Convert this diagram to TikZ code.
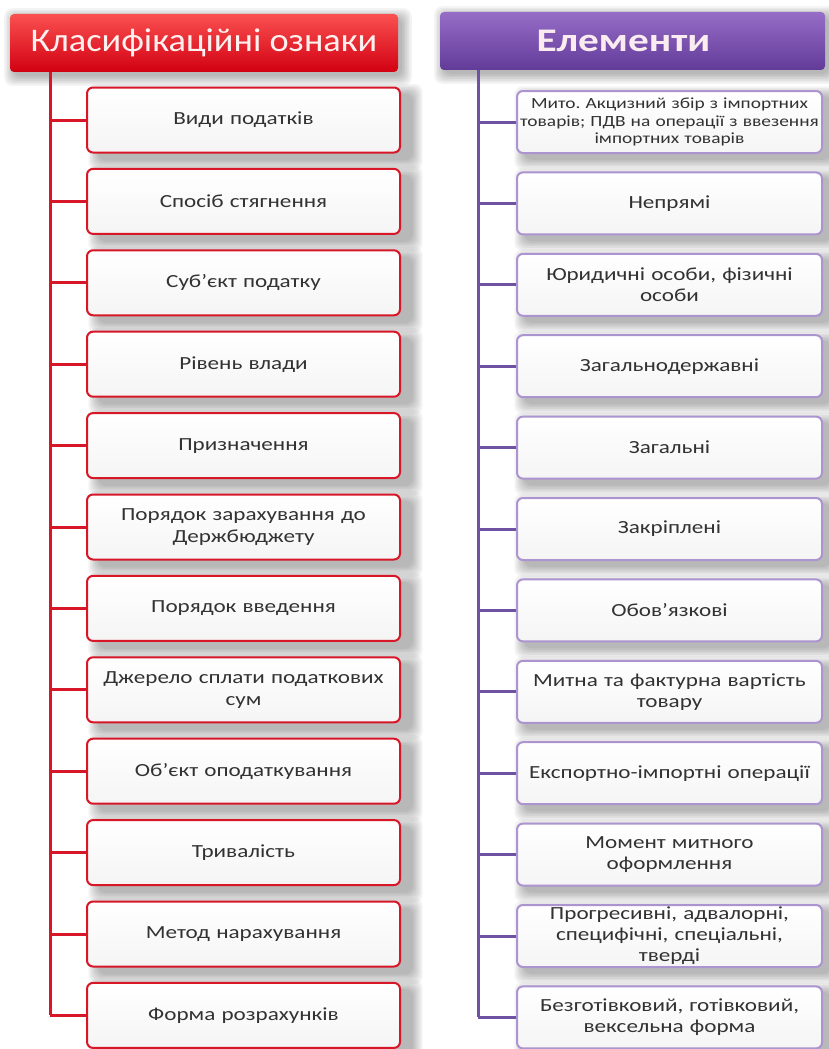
\documentclass[tikz,border=0pt]{standalone}
\usepackage{fontspec}
\setmainfont{Carlito}
\newfontfamily\boxfont[FakeStretch=1.25]{Carlito}
\newfontfamily\headfont[FakeStretch=1.1]{Carlito}
\newfontfamily\headbold[FakeStretch=1.25]{Carlito}
\frenchspacing

\pgfdeclarelayer{paper}
\pgfdeclarelayer{shade}
\pgfsetlayers{paper,shade,main}

\definecolor{redhi}{RGB}{250,80,80}
\definecolor{redlo}{RGB}{210,0,18}
\definecolor{redline}{RGB}{215,22,40}
\definecolor{purphi}{RGB}{150,110,200}
\definecolor{purplo}{RGB}{98,58,152}
\definecolor{purpline}{RGB}{112,82,162}
\definecolor{lavline}{RGB}{172,148,208}
\definecolor{txt}{RGB}{50,50,50}

\tikzset{
  header/.style={rounded corners=4pt, minimum height=58pt, inner sep=0pt},
  redhead/.style={header, top color=redhi, bottom color=redlo, minimum width=388pt,
    text=white!94!red, font=\headfont\fontsize{33}{33}\selectfont},
  purphead/.style={header, top color=purphi, bottom color=purplo, minimum width=385pt,
    text=white!92!purple, font=\headbold\bfseries\fontsize{33}{33}\selectfont},
  item/.style={rounded corners=6pt, line width=2pt, top color=white, bottom color=gray!8,
    align=center, inner sep=0pt, text=txt},
  reditem/.style={item, draw=redline, minimum width=313pt, minimum height=65pt,
    text width=306pt, font=\boxfont\fontsize{18.5}{22}\selectfont},
  puritem/.style={item, draw=lavline, minimum width=305pt, minimum height=62pt,
    text width=300pt, font=\boxfont\fontsize{18.5}{21}\selectfont},
  smalltext/.style={font=\boxfont\fontsize{15.5}{17.5}\selectfont},
  redspine/.style={draw=redline, line width=3pt},
  purspine/.style={draw=purpline, line width=3pt},
  shadelayer/.style={fill=black, fill opacity=0.045, rounded corners=8pt},
}

% soft drop shadow: stacked translucent rounded rectangles behind a node
\newcommand\softshade[3]{% node, x offset, y offset
  \foreach \e in {0,1.6,...,11.2} {
    \fill[shadelayer]
      ([xshift=#2-\e pt, yshift=-#3-\e pt]#1.south west) rectangle
      ([xshift=#2+\e pt, yshift=-#3+\e pt]#1.north east);
  }
}

\begin{document}
\begin{tikzpicture}[x=1pt,y=-1pt]
\useasboundingbox (0,0) rectangle (829,1049);
\begin{pgfonlayer}{paper}
  \fill[white] (0,0) rectangle (829,1049);
\end{pgfonlayer}

% column headings
\node[redhead]  (hl) at (204,43) {Класифікаційні ознаки};
\node[purphead] (hr) at (632.5,41) {\hspace*{-18pt}Елементи};

% left column: classification features
\foreach \i/\t in {
  1/Види податків,
  2/Спосіб стягнення,
  3/Суб’єкт податку,
  4/Рівень влади,
  5/Призначення,
  6/{Порядок зарахування до\\Держбюджету},
  7/Порядок введення,
  8/{Джерело сплати податкових\\сум},
  9/Об’єкт оподаткування,
  10/Тривалість,
  11/Метод нарахування,
  12/Форма розрахунків}
{
  \node[reditem] (l\i) at (243.5,{120+(\i-1)*81.4}) {\t};
}

% right column: elements
\node[puritem, smalltext] (r1) at (669.5,122) {Мито. Акцизний збір з імпортних\\товарів; ПДВ на операції з ввезення\\імпортних товарів};
\foreach \i/\t in {
  2/Непрямі,
  3/{Юридичні особи, фізичні\\особи},
  4/Загальнодержавні,
  5/Загальні,
  6/Закріплені,
  7/Обов’язкові,
  8/{Митна та фактурна вартість\\товару},
  9/Експортно-імпортні операції,
  10/{Момент митного\\оформлення},
  11/{Прогресивні, адвалорні,\\специфічні, спеціальні,\\тверді},
  12/{Безготівковий, готівковий,\\вексельна форма}}
{
  \node[puritem] (r\i) at (669.5,{122+(\i-1)*81.4}) {\t};
}

% shadows under headings and boxes
\begin{pgfonlayer}{shade}
  \softshade{hl}{4pt}{4pt}
  \softshade{hr}{4pt}{4pt}
  \foreach \i in {1,...,12} {
    \softshade{l\i}{12pt}{7pt}
    \softshade{r\i}{8pt}{6pt}
  }
\end{pgfonlayer}

% spines and branches
\coordinate (ls) at (50,0);
\coordinate (rs) at (478,0);
\draw[redspine] (hl.south -| ls) -- (l12.west -| ls);
\draw[purspine] (hr.south -| rs) -- (r12.west -| rs);
\foreach \i in {1,...,12} {
  \draw[redspine] (l\i.west -| ls) -- (l\i.west);
  \draw[purspine] (r\i.west -| rs) -- (r\i.west);
}
\end{tikzpicture}
\end{document}
